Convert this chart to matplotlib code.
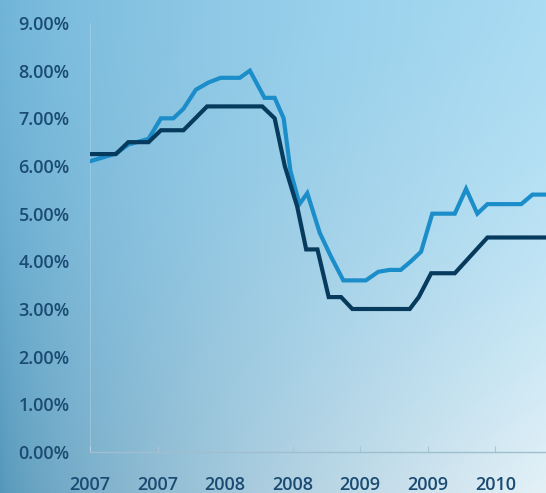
import numpy as np
import matplotlib
matplotlib.use("Agg")
import matplotlib.pyplot as plt
from matplotlib.colors import to_rgb

# ---- data (x in months from first tick, y in %) ----
cash_x = [0, 2.3, 3.4, 5.2, 6.3, 8.3, 10.4, 15.3, 16.4, 17.3, 18.4, 19.2, 20.2,
          21.2, 22.3, 23.3, 28.4, 29.2, 30.3, 32.4, 35.3, 41]
cash_y = [6.25, 6.25, 6.5, 6.5, 6.75, 6.75, 7.25, 7.25, 7.0, 6.0, 5.15, 4.25, 4.25,
          3.25, 3.25, 3.0, 3.0, 3.25, 3.75, 3.75, 4.5, 4.5]

var_x = [0, 2.3, 3.4, 5.2, 6.3, 7.4, 8.3, 9.4, 10.5, 11.6, 13.3, 14.2, 15.5, 16.4,
         17.2, 17.8, 18.6, 19.3, 20.4, 21.4, 22.5, 24.5, 25.6, 26.6, 27.6, 28.5,
         29.4, 30.4, 32.4, 33.4, 34.4, 35.3, 38.3, 39.3, 41]
var_y = [6.1, 6.26, 6.45, 6.57, 7.0, 7.0, 7.2, 7.6, 7.75, 7.85, 7.85, 8.0, 7.43, 7.43,
         7.0, 5.9, 5.2, 5.43, 4.6, 4.1, 3.6, 3.6, 3.78, 3.82, 3.82, 4.0,
         4.2, 5.0, 5.0, 5.52, 5.0, 5.2, 5.2, 5.4, 5.4]

tick_pos = [0, 6, 12, 18, 24, 30, 36]
tick_labels = ["2007", "2007", "2008", "2008", "2009", "2009", "2010"]
y_ticks = [0, 1, 2, 3, 4, 5, 6, 7, 8, 9]

W, H, DPI = 546, 493, 100
fig = plt.figure(figsize=(W / DPI, H / DPI), dpi=DPI)

# ---- gradient background ----
tl, tr = np.array(to_rgb("#70b4d8")), np.array(to_rgb("#aadcf3"))
bl, br = np.array(to_rgb("#5597ba")), np.array(to_rgb("#e4f1f7"))
ny, nx = 200, 220
u = np.linspace(0, 1, nx)[None, :, None]
v = np.linspace(0, 1, ny)[:, None, None]
v2 = v ** 1.5
u2 = u ** 0.7
img = (tl * (1 - u2) * (1 - v2) + tr * u2 * (1 - v2) + bl * (1 - u2) * v2 + br * u2 * v2)
bg = fig.add_axes([0, 0, 1, 1], zorder=0)
bg.imshow(np.clip(img, 0, 1), aspect="auto", extent=[0, 1, 0, 1], interpolation="bilinear")
bg.axis("off")

left = 90 / W
bottom = 1 - 452 / H
top = 1 - 23 / H
ax = fig.add_axes([left, bottom, 1 - left, top - bottom], zorder=1)
ax.patch.set_alpha(0)

ax.plot(var_x, var_y, color="#1b8dc9", lw=3.0, solid_joinstyle="miter", zorder=3)
ax.plot(cash_x, cash_y, color="#073b5e", lw=3.0, solid_joinstyle="miter", zorder=4)

ax.set_xlim(0, 40.5)
ax.set_ylim(0, 9)

txt = "#1b4b72"
fs = 13
ax.set_yticks(y_ticks)
ax.set_yticklabels([f"{t:.2f}%" for t in y_ticks], fontsize=fs, color=txt,
                   fontfamily="Open Sans", fontweight="semibold")
ax.set_xticks(tick_pos)
ax.set_xticklabels(tick_labels, fontsize=fs, color=txt,
                   fontfamily="Open Sans", fontweight="semibold")
ax.tick_params(axis="y", length=0, pad=14.5)
ax.tick_params(axis="x", direction="in", length=4, color="#a9c6d6", pad=17.5)

for s in ["top", "right"]:
    ax.spines[s].set_visible(False)
ax.spines["left"].set_color((1, 1, 1, 0.2))
ax.spines["left"].set_linewidth(0.8)
ax.spines["bottom"].set_color("#9fbfcf")
ax.spines["bottom"].set_linewidth(1.0)

fig.savefig("out.png", dpi=DPI)
